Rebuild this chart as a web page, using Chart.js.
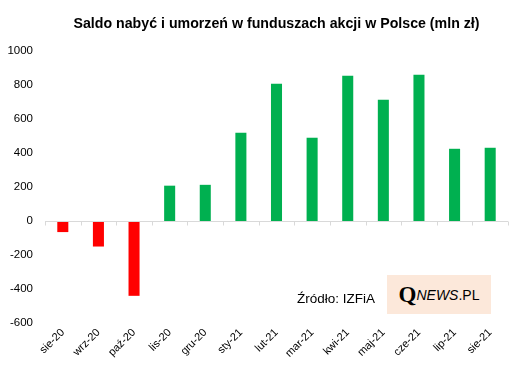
<!DOCTYPE html>
<html>
<head>
<meta charset="utf-8">
<script src="https://cdn.jsdelivr.net/npm/chart.js@4"></script>
<style>
    body { margin: 0; background: #fff; }
    #wrap { position: relative; width: 524px; height: 374px; }
    #source { position: absolute; left: 297px; top: 291px; font: 13.5px "Liberation Sans", sans-serif; color: #000; }
    #logo { position: absolute; left: 387px; top: 275px; width: 104px; height: 39px; background: #fce8da;
            display: flex; align-items: center; justify-content: center; color: #000; }
    #logo .q { font: bold 23px "Liberation Serif", serif; }
    #logo .n { font: italic 14px "Liberation Sans", sans-serif; }
    #logo .p { font: 14px "Liberation Sans", sans-serif; }
</style>
</head>
<body>
<div id="wrap">
    <canvas id="chart" width="524" height="374"></canvas>
    <div id="source">Źródło: IZFiA</div>
    <div id="logo"><span class="q">Q</span><span class="n">NEWS</span><span class="p">.PL</span></div>
</div>
<script>
const months = ['sie-20', 'wrz-20', 'paź-20', 'lis-20', 'gru-20', 'sty-21', 'lut-21', 'mar-21', 'kwi-21', 'maj-21', 'cze-21', 'lip-21', 'sie-21'];
const saldo = [-65, -150, -440, 208, 213, 519, 807, 490, 855, 713, 860, 425, 431];
const yTicks = [-600, -400, -200, 0, 200, 400, 600, 800, 1000];

const barColors = saldo.map(v => v < 0 ? '#ff0000' : '#00b050');

// zero line with small category ticks, like the Excel axis
const zeroAxis = {
    id: 'zeroAxis',
    afterDatasetsDraw(chart) {
        const ctx = chart.ctx;
        const y0 = Math.round(chart.scales.y.getPixelForValue(0)) + 0.5;
        const area = chart.chartArea;
        ctx.save();
        ctx.strokeStyle = '#d9d9d9';
        ctx.lineWidth = 1;
        ctx.beginPath();
        ctx.moveTo(area.left, y0);
        ctx.lineTo(area.right, y0);
        const step = (area.right - area.left) / months.length;
        for (let i = 0; i <= months.length; i++) {
            const px = Math.round(area.left + i * step) + 0.5;
            ctx.moveTo(px, y0);
            ctx.lineTo(px, y0 + 4);
        }
        ctx.stroke();
        ctx.restore();
    }
};

new Chart(document.getElementById('chart'), {
    type: 'bar',
    data: {
        labels: months,
        datasets: [{
            data: saldo,
            backgroundColor: barColors,
            barPercentage: 0.31,
            categoryPercentage: 1
        }]
    },
    options: {
        responsive: false,
        animation: false,
        layout: { padding: { left: 0, right: 16, top: 0, bottom: 11 } },
        plugins: {
            legend: { display: false },
            tooltip: { enabled: false },
            title: {
                display: true,
                fullSize: false,
                text: 'Saldo nabyć i umorzeń w funduszach akcji w Polsce (mln zł)',
                color: '#000',
                font: { family: 'Liberation Sans', size: 14.2, weight: 'bold' },
                padding: { top: 16, bottom: 18 }
            }
        },
        scales: {
            x: {
                afterFit(scale) {
                    scale.paddingLeft = 0;
                    scale.paddingRight = 0;
                },
                grid: { display: false, drawTicks: false },
                border: { display: false },
                ticks: {
                    color: '#000',
                    font: { family: 'Liberation Sans', size: 11 },
                    minRotation: 45,
                    maxRotation: 45,
                    padding: 3
                }
            },
            y: {
                min: -600,
                max: 1000,
                afterBuildTicks(scale) {
                    scale.ticks = yTicks.map(v => ({ value: v }));
                },
                afterFit(scale) {
                    scale.width = 45;
                },
                grid: { display: false, drawTicks: false },
                border: { display: false },
                ticks: {
                    color: '#000',
                    font: { family: 'Liberation Sans', size: 11.5 },
                    padding: 12,
                    callback: v => String(v)
                }
            }
        }
    },
    plugins: [zeroAxis]
});
</script>
</body>
</html>
